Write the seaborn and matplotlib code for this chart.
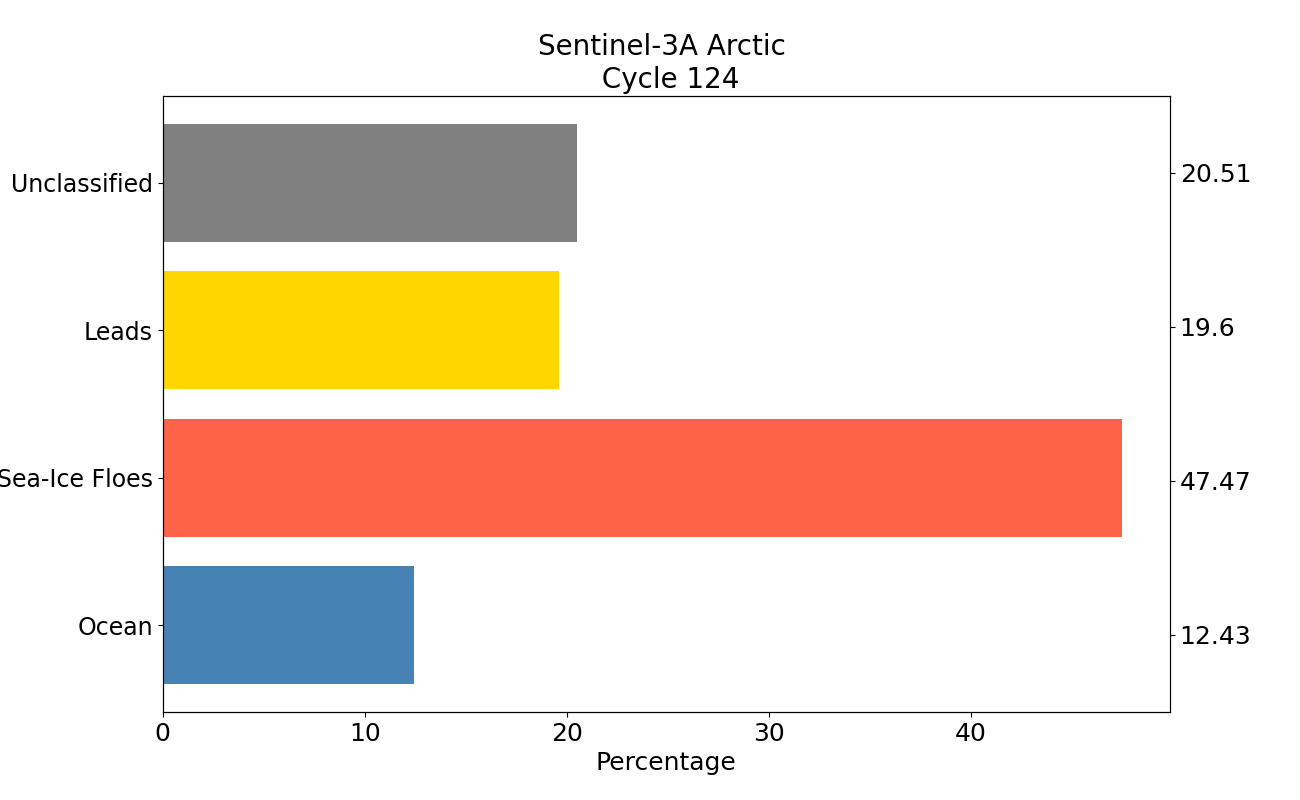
import matplotlib
matplotlib.use("Agg")
import matplotlib.pyplot as plt
import seaborn as sns
import pandas as pd

categories = ["Ocean", "Sea-Ice Floes", "Leads", "Unclassified"]
percentages = [12.43, 47.47, 19.6, 20.51]
colors = ["#4682B4", "#FF6347", "#FFD700", "#808080"]
title = "Sentinel-3A Arctic \n Cycle 124"

df = pd.DataFrame({"cat": categories, "pct": percentages})
order = categories[::-1]

fig, ax = plt.subplots(figsize=(13, 8), dpi=100)
sns.barplot(data=df, y="cat", x="pct", hue="cat", order=order, hue_order=categories,
            palette=colors, width=0.8, saturation=1, legend=False, ax=ax, orient="h")
n = len(categories)
ax.set_ylim(n - 1 + 0.59, -0.59)
ax.set_xlim(0, max(percentages) * 1.05)
ax.set_ylabel("")
ax.set_xlabel("Percentage", fontsize=18)
ax.tick_params(axis="x", labelsize=18)
ax.tick_params(axis="y", labelsize=17)
ax.set_title(title, fontsize=20)

ax2 = ax.twinx()
ax2.set_ylim(-0.5, n - 0.5)
ax2.set_yticks(range(n))
ax2.set_yticklabels([str(v) for v in percentages], fontsize=18)

fig.savefig("out.png", dpi=100)
